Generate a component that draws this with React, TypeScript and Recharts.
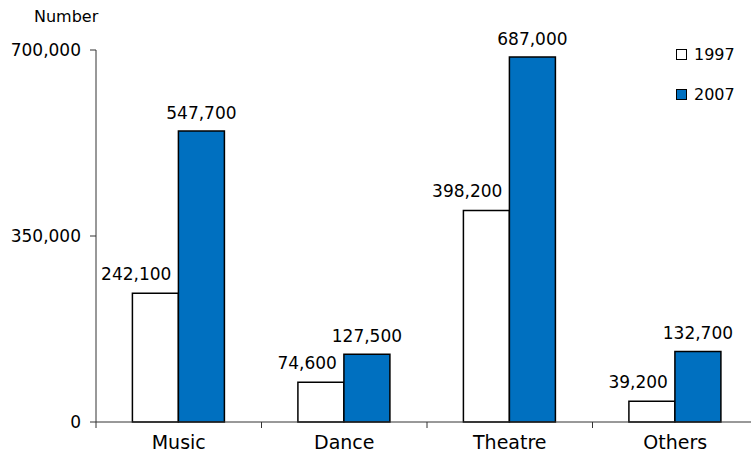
import React from 'react';
import { BarChart, Bar, XAxis, YAxis, LabelList } from 'recharts';

const categories = ['Music', 'Dance', 'Theatre', 'Others'];
const values1997 = [242100, 74600, 398200, 39200];
const values2007 = [547700, 127500, 687000, 132700];
const yTicks = [0, 350000, 700000];
const seriesNames = ['1997', '2007'];
const seriesColors = ['#ffffff', '#0070C0'];

const data = categories.map((c, i) => ({
  category: c,
  v1997: values1997[i],
  v2007: values2007[i],
}));

const FONT = "'DejaVu Sans', Verdana, sans-serif";
const fmt = (v: number) => Number(v).toLocaleString('en-US');

const X_TICK_SIZE = 6;
const X_TICK_MARGIN = 8;

const CategoryTick = (props: any) => {
  const { x, y, payload } = props;
  const half = Number(payload?.offset) || 0;
  const axisY = Number(y) - X_TICK_SIZE - X_TICK_MARGIN;
  return (
    <g>
      <line x1={x - half} x2={x - half} y1={axisY} y2={axisY + 6} stroke="#333" strokeWidth={1} />
      <text x={x} y={y} dy="0.71em" textAnchor="middle" fontSize={19} fill="#000" fontFamily={FONT}>
        {payload.value}
      </text>
    </g>
  );
};

const Label1997 = (props: any) => {
  const { x, y, width, value } = props;
  return (
    <text x={Number(x) + Number(width) - 7} y={Number(y) - 13} textAnchor="end" fontSize={17} fill="#000" fontFamily={FONT}>
      {fmt(value)}
    </text>
  );
};

const Label2007 = (props: any) => {
  const { x, y, width, value } = props;
  return (
    <text x={Number(x) + Number(width) / 2} y={Number(y) - 12} textAnchor="middle" fontSize={17} fill="#000" fontFamily={FONT}>
      {fmt(value)}
    </text>
  );
};

export default function App() {
  return (
    <div style={{ position: 'absolute', left: 0, top: 0, width: 751, height: 459, overflow: 'hidden', background: '#fff' }}>
      <div style={{ position: 'absolute', left: 34, top: 7, fontFamily: FONT, fontSize: 16, color: '#000' }}>Number</div>
      <div style={{ position: 'absolute', left: 676, top: 44, fontFamily: FONT, fontSize: 16, color: '#000', zIndex: 2 }}>
        {seriesNames.map((n, i) => (
          <div key={n} style={{ display: 'flex', alignItems: 'center', height: 20, marginBottom: 20 }}>
            <span
              style={{
                display: 'inline-block',
                width: 9,
                height: 9,
                background: seriesColors[i],
                border: '1px solid #000',
                marginRight: 7,
              }}
            />
            <span>{n}</span>
          </div>
        ))}
      </div>
      <BarChart
        width={758}
        height={459}
        data={data}
        margin={{ top: 50, right: 0, bottom: 0, left: 0 }}
        barCategoryGap="22%"
        barGap={0}
        style={{ fontFamily: FONT }}
      >
        <XAxis
          xAxisId="cat"
          dataKey="category"
          height={37}
          tickLine={false}
          axisLine={{ stroke: '#333' }}
          tick={<CategoryTick />}
          tickSize={X_TICK_SIZE}
          tickMargin={X_TICK_MARGIN}
          interval={0}
        />
        <YAxis
          width={96}
          domain={[0, 700000]}
          ticks={yTicks}
          tickFormatter={fmt}
          tick={{ fontSize: 17, fill: '#000' }}
          tickSize={6}
          tickMargin={9}
          axisLine={{ stroke: '#333' }}
          tickLine={{ stroke: '#333' }}
          interval={0}
        />
        <Bar xAxisId="cat" dataKey="v1997" name={seriesNames[0]} fill={seriesColors[0]} stroke="#000" strokeWidth={1.5} isAnimationActive={false}>
          <LabelList dataKey="v1997" content={Label1997} />
        </Bar>
        <Bar xAxisId="cat" dataKey="v2007" name={seriesNames[1]} fill={seriesColors[1]} stroke="#000" strokeWidth={1.5} isAnimationActive={false}>
          <LabelList dataKey="v2007" content={Label2007} />
        </Bar>
      </BarChart>
    </div>
  );
}
